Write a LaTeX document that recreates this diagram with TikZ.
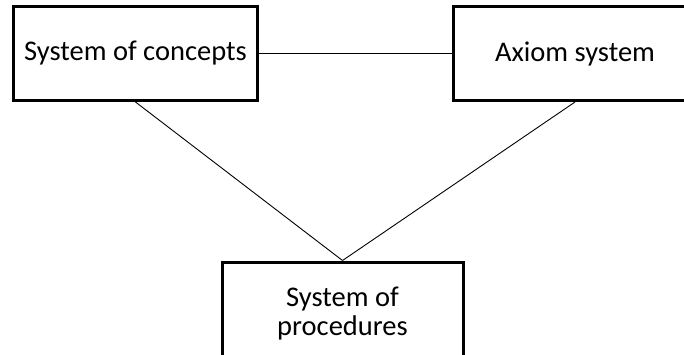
\documentclass[tikz,border=0pt]{standalone}
\usepackage{fontspec}
\setmainfont{Carlito}
\begin{document}
\begin{tikzpicture}[x=1bp,y=-1bp,
  block/.style={draw=black, line width=3bp, fill=white, inner sep=0pt,
    align=center, font=\fontsize{28.5bp}{29bp}\selectfont},
  link/.style={draw=black, line width=0.9bp}]
\useasboundingbox (0,0) rectangle (684,354);
\clip (0,0) rectangle (684,354);
\node[block, minimum width=243bp, minimum height=94bp] (concepts) at (135.5,53.5) {System of concepts};
\node[block, minimum width=244bp, minimum height=94bp] (axioms) at (575,53.5) {Axiom system};
\node[block, minimum width=241bp, minimum height=98bp, text depth=0pt] (procedures) at (342.5,311) {System of\\procedures};
\draw[link] (concepts.east) -- (axioms.west);
\draw[link] (concepts.south) -- (procedures.north);
\draw[link] (axioms.south) -- (procedures.north);
\end{tikzpicture}
\end{document}
